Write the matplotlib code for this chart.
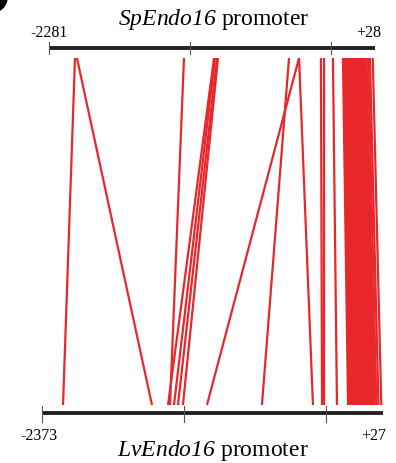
import matplotlib
matplotlib.use('Agg')
import matplotlib.pyplot as plt

# gene names fully italic (digits too)
plt.rcParams['mathtext.fontset'] = 'custom'
plt.rcParams['mathtext.it'] = 'Liberation Serif:italic'
plt.rcParams['mathtext.rm'] = 'Liberation Serif:italic'

# promoter ranges (bp)
top_start, top_end = -2281, 28
bot_start, bot_end = -2373, 27

# conserved links: position on SpEndo16 (top) -> position on LvEndo16 (bottom)
top_pos = [-2097, -2083, -1325, -1112, -1105, -1091, -1084, -581, -510, -510,
           -355, -333, -270,
           -199, -190, -182, -175, -166, -158, -150, -141, -133, -125, -116,
           -108, -99, -91, -83, -74, -66, -57, -49, -40, -32, -20, -8, 12]
bot_pos = [-2225, -1599, -1472, -1486, -1444, -1416, -1381, -825, -1212, -466,
           -402, -388, -297,
           -219, -210, -200, -191, -182, -173, -163, -154, -145, -136, -126,
           -117, -108, -99, -89, -80, -71, -61, -52, -43, -33, -20, -5, 15]

# tick labels
top_labels = ['-2281', '+28']
bot_labels = ['-2373', '+27']

red = '#e8272b'
dark = '#222222'

# pixel scale of the two bars
k_bot = 341 / 2400.0
k_top = 326 / 2309.0
bot_px0, top_px0 = 42, 49


def top_x(p):
    # map top-promoter bp onto the common (bottom) bp axis
    return bot_start + (top_px0 - bot_px0 + (p - top_start) * k_top) / k_bot


fig = plt.figure(figsize=(3.96, 4.63), dpi=100)
ax = fig.add_axes([0, 0, 1, 1])
ax.set_xlim(bot_start - bot_px0 / k_bot, bot_end + (396 - 383) / k_bot)
ax.set_ylim(463, 0)
ax.axis('off')

y_top_bar, y_bot_bar = 48, 413
y_top_line, y_bot_line = 58, 405

# links
for t, b in zip(top_pos, bot_pos):
    ax.plot([top_x(t), b], [y_top_line, y_bot_line], color=red, lw=1.6,
            solid_capstyle='butt')

# bars
ax.plot([top_x(top_start), top_x(top_end)], [y_top_bar, y_top_bar],
        color=dark, lw=2.8, solid_capstyle='butt')
ax.plot([bot_start, bot_end], [y_bot_bar, y_bot_bar],
        color=dark, lw=2.8, solid_capstyle='butt')

# ticks every 1000 bp from the left end
for p in [top_start, top_start + 1000, top_start + 2000]:
    ax.plot([top_x(p), top_x(p)], [y_top_bar - 6, y_top_bar + 6],
            color='#555555', lw=0.8)
for p in [bot_start, bot_start + 1000, bot_start + 2000]:
    ax.plot([p, p], [y_bot_bar - 7, y_bot_bar + 9], color='#555555', lw=0.8)

serif = ['Liberation Serif', 'DejaVu Serif']
ax.text(top_x(top_start), 37, top_labels[0], ha='center', va='baseline',
        fontsize=11.5, family=serif)
ax.text(top_x(top_end) - 45, 37, top_labels[1], ha='center', va='baseline',
        fontsize=11.5, family=serif)
ax.text(bot_start - 20, 440, bot_labels[0], ha='center', va='baseline',
        fontsize=11.5, family=serif)
ax.text(bot_end - 65, 440, bot_labels[1], ha='center', va='baseline',
        fontsize=11.5, family=serif)

ax.text(top_x(-1115), 25, r'$SpEndo16$ promoter', ha='center',
        va='baseline', fontsize=17, family=serif)
ax.text(bot_start + 1205, 456, r'$LvEndo16$ promoter', ha='center',
        va='baseline', fontsize=17, family=serif)

# edge of the panel letter circle in the corner
ax.plot([bot_start - 50 / k_bot], [-3], 'o', color='black', ms=21,
        clip_on=False)

fig.savefig('out.png', dpi=100)
